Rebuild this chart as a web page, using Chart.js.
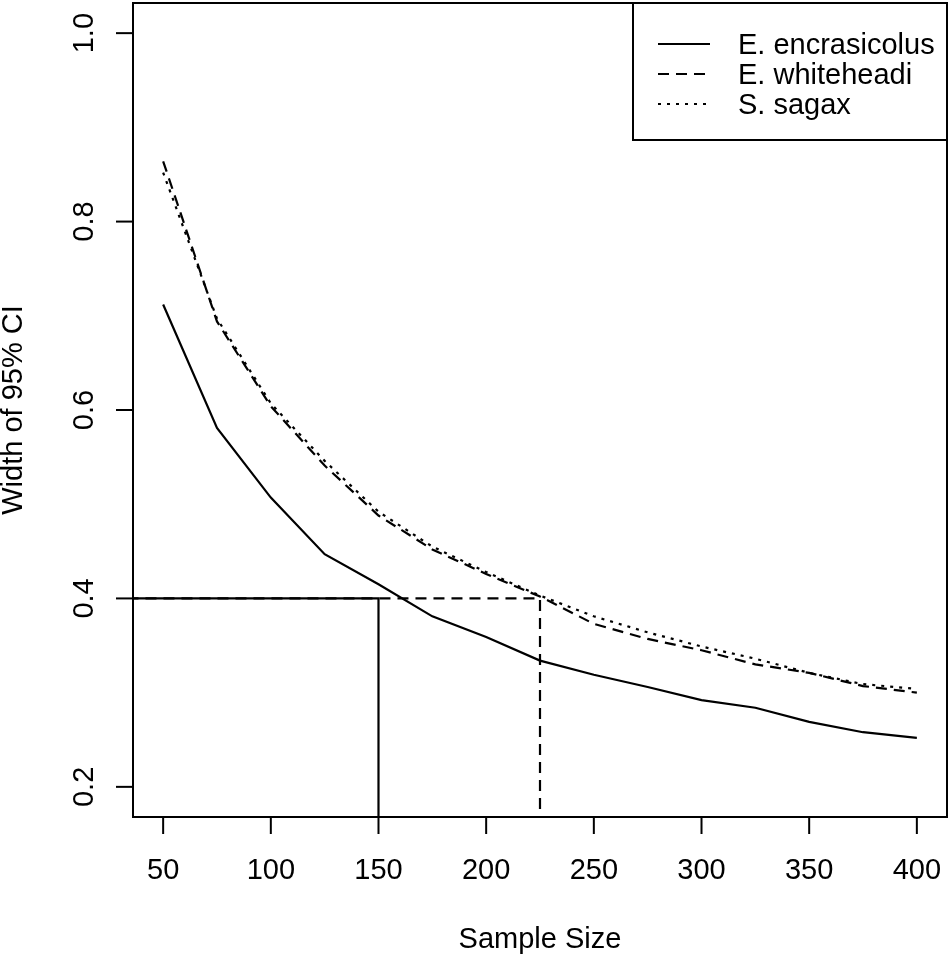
<!DOCTYPE html>
<html>
<head>
<meta charset="utf-8">
<script src="https://cdn.jsdelivr.net/npm/chart.js@4.4.1/dist/chart.umd.min.js"></script>
<style>
  html, body { margin: 0; padding: 0; background: #fff; }
  canvas { display: block; }
</style>
</head>
<body>
<canvas id="myChart" width="950" height="956"></canvas>
<script>
// sample sizes on the x axis
const sampleSizes = [50, 75, 100, 125, 150, 175, 200, 225, 250, 275, 300, 325, 350, 375, 400];
// width of 95% CI
const encrasicolus = [0.712, 0.581, 0.507, 0.447, 0.415, 0.381, 0.359, 0.334, 0.319, 0.306, 0.292, 0.284, 0.269, 0.258, 0.252];
const whiteheadi   = [0.864, 0.694, 0.604, 0.541, 0.488, 0.452, 0.426, 0.402, 0.373, 0.357, 0.345, 0.330, 0.321, 0.307, 0.300];
const sagax        = [0.852, 0.697, 0.607, 0.546, 0.492, 0.455, 0.428, 0.403, 0.381, 0.364, 0.349, 0.336, 0.321, 0.309, 0.304];
const seriesNames  = ['E. encrasicolus', 'E. whiteheadi', 'S. sagax'];

const xTicks = [50, 100, 150, 200, 250, 300, 350, 400];
const yTicks = [0.2, 0.4, 0.6, 0.8, 1.0];

// target CI width and the sample sizes that reach it
const ciTarget = 0.4;
const nEncrasicolus = 150;
const nWhiteheadi = 225;

const DASH = [11, 7];
const DOT = [3, 6];
const FONT = '29px "Liberation Sans", Arial, sans-serif';

const toPoints = vals => sampleSizes.map((n, i) => ({ x: n, y: vals[i] }));

// axes drawn the way R's base graphics does it: full box, outward ticks, rotated y labels
const rAxes = {
  id: 'rAxes',
  afterDraw(chart) {
    const { ctx, chartArea: a, scales: { x, y } } = chart;
    ctx.save();
    ctx.strokeStyle = '#000';
    ctx.fillStyle = '#000';
    ctx.lineWidth = 2;
    ctx.setLineDash([]);
    ctx.strokeRect(a.left, a.top, a.right - a.left, a.bottom - a.top);
    ctx.font = FONT;

    ctx.textAlign = 'center';
    ctx.textBaseline = 'alphabetic';
    x.ticks.forEach(t => {
      const px = x.getPixelForValue(t.value);
      ctx.beginPath();
      ctx.moveTo(px, a.bottom);
      ctx.lineTo(px, a.bottom + 17);
      ctx.stroke();
      ctx.fillText(t.label ?? String(t.value), px, a.bottom + 62);
    });

    y.ticks.forEach(t => {
      const py = y.getPixelForValue(t.value);
      ctx.beginPath();
      ctx.moveTo(a.left - 17, py);
      ctx.lineTo(a.left, py);
      ctx.stroke();
      ctx.save();
      ctx.translate(a.left - 40, py);
      ctx.rotate(-Math.PI / 2);
      ctx.fillText(t.label ?? t.value.toFixed(1), 0, 0);
      ctx.restore();
    });

    // axis titles
    ctx.fillText('Sample Size', (a.left + a.right) / 2, a.bottom + 131);
    ctx.save();
    ctx.translate(22, (a.top + a.bottom) / 2);
    ctx.rotate(-Math.PI / 2);
    ctx.fillText('Width of 95% CI', 0, 0);
    ctx.restore();

    // legend, top right
    const lx = 633, ly = a.top, lw = a.right - 633, lh = 137;
    ctx.fillStyle = '#fff';
    ctx.fillRect(lx, ly, lw, lh);
    ctx.strokeRect(lx, ly, lw, lh);
    ctx.fillStyle = '#000';
    ctx.textAlign = 'left';
    const dashes = [[], DASH, DOT];
    seriesNames.forEach((name, i) => {
      const ry = ly + 41 + i * 30;
      ctx.setLineDash(dashes[i]);
      ctx.lineWidth = 2.2;
      ctx.beginPath();
      ctx.moveTo(658, ry);
      ctx.lineTo(710, ry);
      ctx.stroke();
      ctx.setLineDash([]);
      ctx.fillText(name, 738, ry + 10);
    });
    ctx.restore();
  }
};

const line = (label, data, dash) => ({
  label, data,
  borderColor: '#000',
  borderWidth: 2.2,
  borderDash: dash,
  pointRadius: 0,
  tension: 0,
  fill: false
});

new Chart(document.getElementById('myChart'), {
  type: 'line',
  data: {
    datasets: [
      line(seriesNames[0], toPoints(encrasicolus), []),
      line(seriesNames[1], toPoints(whiteheadi), DASH),
      line(seriesNames[2], toPoints(sagax), DOT),
      // where each species reaches the target CI width
      line('ref1', [{ x: 0, y: ciTarget }, { x: nEncrasicolus, y: ciTarget }, { x: nEncrasicolus, y: 0 }], []),
      line('ref2', [{ x: 0, y: ciTarget }, { x: nWhiteheadi, y: ciTarget }, { x: nWhiteheadi, y: 0 }], DASH)
    ]
  },
  options: {
    responsive: false,
    animation: false,
    devicePixelRatio: 1,
    layout: { padding: { left: 133, top: 3, right: 3, bottom: 139 } },
    plugins: { legend: { display: false }, tooltip: { enabled: false } },
    scales: {
      x: {
        type: 'linear', display: false, min: 36, max: 414,
        afterBuildTicks: s => { s.ticks = xTicks.map(v => ({ value: v })); }
      },
      y: {
        type: 'linear', display: false, min: 0.168, max: 1.032,
        afterBuildTicks: s => { s.ticks = yTicks.map(v => ({ value: v })); },
        ticks: { callback: v => Number(v).toFixed(1) }
      }
    }
  },
  plugins: [rAxes]
});
</script>
</body>
</html>
